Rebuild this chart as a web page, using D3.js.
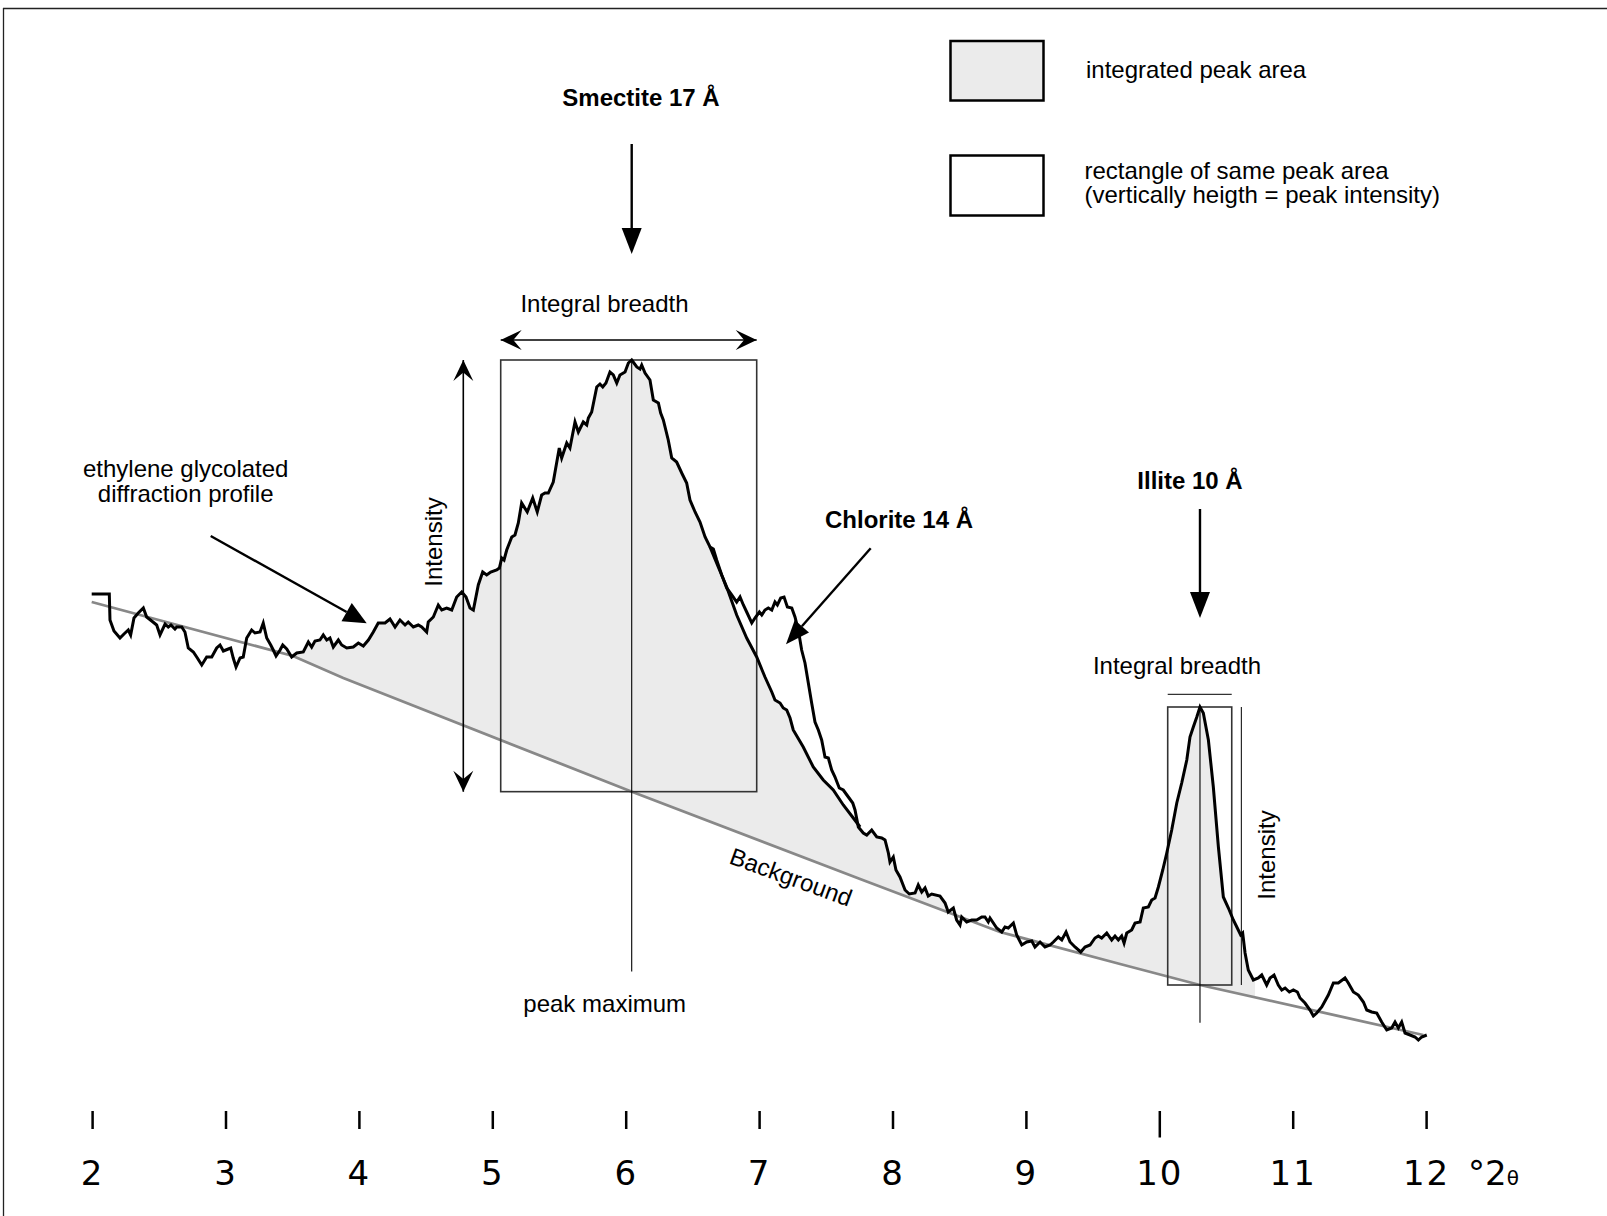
<!DOCTYPE html>
<meta charset="utf-8">
<head>
  <title>Integrated peak area</title>
  <style>
    body { margin: 0; background: #fff; }
    svg text { font-family: "Liberation Sans", Arial, Helvetica, sans-serif; font-size: 24px; fill: #000; }
    svg text.bold { font-weight: bold; }
    .axis text { font-family: "DejaVu Sans", sans-serif; font-size: 34px; letter-spacing: 2px; }
  </style>
</head>
<body>
<div id="chart"></div>
<script src="https://d3js.org/d3.v7.min.js"></script>
<script>

// measured ethylene glycolated profile  [°2θ, counts]
var profile = [
  [1.997,466],[2.129,466],[2.134,440],[2.164,429],[2.209,422],[2.239,426],[2.271,430],[2.289,425],
  [2.314,442],[2.346,447],[2.384,452],[2.409,443],[2.447,439],[2.484,435],[2.509,425],[2.547,436],
  [2.571,433],[2.591,435],[2.621,431],[2.634,433],[2.672,433],[2.696,428],[2.721,412],[2.759,408],
  [2.789,402],[2.822,395],[2.859,403],[2.897,403],[2.934,412],[2.959,415],[2.984,409],[3.021,411],
  [3.039,412],[3.058,402],[3.079,393],[3.109,402],[3.133,403],[3.159,422],[3.196,430],[3.221,427],
  [3.259,428],[3.283,437],[3.309,422],[3.339,415],[3.358,410],[3.379,404],[3.409,410],[3.429,415],
  [3.459,411],[3.496,403],[3.534,407],[3.583,408],[3.621,418],[3.646,413],[3.671,419],[3.708,420],
  [3.733,425],[3.759,420],[3.783,422],[3.808,413],[3.846,420],[3.871,415],[3.909,412],[3.958,413],
  [3.996,417],[4.033,414],[4.071,420],[4.108,428],[4.145,437],[4.196,437],[4.233,441],[4.271,433],
  [4.308,440],[4.346,435],[4.370,438],[4.408,433],[4.445,435],[4.471,433],[4.508,428],[4.520,438],
  [4.558,443],[4.595,455],[4.621,450],[4.658,452],[4.696,450],[4.733,463],[4.771,468],[4.803,463],
  [4.833,452],[4.858,450],[4.895,475],[4.928,488],[4.958,485],[4.988,488],[5.033,490],[5.053,492],
  [5.071,502],[5.088,500],[5.108,510],[5.146,523],[5.170,525],[5.195,537],[5.220,557],[5.262,548],
  [5.303,562],[5.337,548],[5.370,565],[5.395,567],[5.420,567],[5.457,578],[5.502,612],[5.520,602],
  [5.558,617],[5.582,612],[5.620,638],[5.645,628],[5.682,638],[5.708,635],[5.720,642],[5.745,648],
  [5.783,673],[5.807,676],[5.828,673],[5.852,677],[5.882,688],[5.907,685],[5.933,677],[5.957,685],
  [5.995,688],[6.020,697],[6.045,700],[6.083,693],[6.107,691],[6.120,695],[6.145,687],[6.182,680],
  [6.207,660],[6.245,657],[6.262,647],[6.282,640],[6.319,620],[6.345,602],[6.382,598],[6.420,587],
  [6.457,577],[6.482,560],[6.520,548],[6.557,538],[6.595,523],[6.632,513],
  [6.657,511],[6.682,500],[6.720,485],[6.757,472],[6.795,465],[6.832,458],[6.857,463],[6.882,455],
  [6.907,448],[6.945,437],[6.969,442],[7.002,448],[7.020,445],[7.044,450],[7.069,452],[7.095,450],
  [7.119,458],[7.137,455],[7.162,462],[7.187,463],[7.212,453],[7.245,452],[7.269,443],[7.294,430],
  [7.319,410],[7.344,397],[7.369,377],[7.394,357],[7.419,338],[7.444,330],[7.469,320],[7.494,303],
  [7.519,302],[7.544,290],[7.569,283],[7.601,272],[7.631,270],[7.669,263],[7.702,257],[7.719,250],
  [7.744,233],
  [7.781,227],[7.807,225],[7.844,230],[7.882,223],[7.919,222],[7.944,220],[7.969,207],[7.981,198],
  [8.006,203],[8.026,190],[8.056,183],[8.094,170],[8.126,166],[8.169,167],[8.193,175],[8.219,168],
  [8.244,172],[8.268,164],[8.294,166],[8.356,164],[8.394,157],[8.418,148],[8.456,152],[8.481,140],
  [8.506,135],[8.519,143],[8.556,138],[8.594,140],[8.631,140],[8.669,143],[8.693,143],[8.718,138],
  [8.731,142],[8.781,132],[8.819,128],[8.843,133],[8.868,132],[8.906,137],[8.931,125],[8.969,115],
  [9.006,118],[9.044,119],[9.068,113],[9.106,118],[9.143,113],[9.181,115],[9.206,118],[9.243,123],
  [9.269,120],[9.301,128],[9.331,118],[9.368,113],[9.411,108],[9.443,113],[9.481,115],[9.518,122],
  [9.543,124],[9.568,122],[9.606,127],[9.643,120],[9.668,124],[9.693,120],[9.718,124],[9.736,117],
  [9.756,127],[9.793,130],[9.818,137],[9.856,138],[9.880,152],[9.918,153],[9.943,160],[9.968,162],
  [9.993,173],[10.026,190],[10.056,207],[10.093,230],[10.131,257],[10.168,277],[10.206,300],[10.230,323],
  [10.255,333],[10.281,343],[10.305,353],[10.330,347],[10.368,320],[10.405,273],[10.443,213],[10.480,163],
  [10.518,152],[10.555,140],[10.592,130],[10.610,125],[10.625,127],[10.643,107],[10.667,90],[10.705,80],
  [10.742,82],[10.768,85],[10.805,75],[10.830,82],[10.860,85],[10.892,75],[10.918,70],[10.943,72],
  [10.975,68],[11.005,70],[11.035,68],[11.055,62],[11.092,57],[11.130,50],[11.155,44],[11.180,47],
  [11.218,53],[11.267,65],[11.305,77],[11.342,77],[11.392,82],[11.417,77],[11.455,68],[11.492,65],
  [11.530,58],[11.555,50],[11.592,48],[11.630,47],[11.667,38],[11.705,30],[11.742,32],[11.767,38],
  [11.792,32],[11.817,38],[11.842,27],[11.880,25],[11.917,23],[11.942,20],[11.967,23],[12.005,25]
];

// smectite part of the profile under the chlorite shoulder
var smectiteBranch = [
  [6.632,513],[6.694,493],[6.757,473],[6.832,445],[6.907,422],[6.982,403],[7.044,383],[7.095,368],
  [7.119,360],[7.157,357],[7.181,352],[7.207,350],[7.232,342],[7.256,330],[7.331,313],[7.406,293],
  [7.481,280],[7.556,270],[7.631,255],[7.706,242],[7.757,233]
];

// background anchors
var background = [
  [1.997,458],[3.506,404],[3.883,382],[6.032,269],[7.757,181],[8.806,128],[9.706,96],[10.305,75],[11.979,25]
];

// peaks
var peakLabels  = ["Smectite 17 Å", "Illite 10 Å"];
var peakTheta   = [6.045, 10.305];
var peakCounts  = [700, 353];
var breadthFrom = [5.063, 10.063];
var breadthTo   = [6.982, 10.543];

// integrated areas (°2θ limits)
var areaLimits = [[3.496, 8.418], [9.411, 10.718]];

var tickValues = [2, 3, 4, 5, 6, 7, 8, 9, 10, 11, 12];

var width = 1607, height = 1216;

var svg = d3.select("#chart").append("svg")
  .attr("width", width)
  .attr("height", height);

var x = d3.scaleLinear().domain([2, 12]).range([92.1, 1426.1]);
var y = d3.scaleLinear().domain([0, 1000]).range([1060, 60]);

var bg = d3.scaleLinear()
  .domain(background.map(function(d) { return d[0]; }))
  .range(background.map(function(d) { return d[1]; }));

function profileAt(t) {
  for (var i = 1; i < profile.length; i++) {
    if (profile[i][0] >= t) {
      var a = profile[i - 1], b = profile[i];
      return a[1] + (b[1] - a[1]) * (t - a[0]) / (b[0] - a[0]);
    }
  }
  return profile[profile.length - 1][1];
}

// frame (top and left edge)
svg.append("line").attr("x1", 3).attr("y1", 8.5).attr("x2", width).attr("y2", 8.5)
  .attr("stroke", "#222").attr("stroke-width", 1.3);
svg.append("line").attr("x1", 3.5).attr("y1", 8).attr("x2", 3.5).attr("y2", height)
  .attr("stroke", "#222").attr("stroke-width", 1.3);

// shaded areas
var region1 = profile.filter(function(d) { return d[0] >= areaLimits[0][0] && d[0] <= 6.632; })
  .concat(smectiteBranch.slice(1))
  .concat(profile.filter(function(d) { return d[0] > 7.757 && d[0] <= areaLimits[0][1]; }));
var region2 = profile.filter(function(d) { return d[0] >= areaLimits[1][0] && d[0] < areaLimits[1][1]; });
region2.push([areaLimits[1][1], profileAt(areaLimits[1][1])]);

var area = d3.area()
  .x(function(d) { return x(d[0]); })
  .y0(function(d) { return y(bg(d[0])); })
  .y1(function(d) { return y(d[1]); });

svg.selectAll(".area")
  .data([region1, region2])
  .enter().append("path")
    .attr("class", "area")
    .attr("d", area)
    .attr("fill", "#ebebeb");

// background line
var line = d3.line()
  .x(function(d) { return x(d[0]); })
  .y(function(d) { return y(d[1]); });

svg.append("path")
  .attr("d", line(background))
  .attr("fill", "none")
  .attr("stroke", "#888")
  .attr("stroke-width", 2.8);

svg.append("text")
  .attr("transform", "translate(791,877) rotate(20)")
  .attr("text-anchor", "middle")
  .attr("dy", "0.35em")
  .text("Background");

// rectangles of same peak area + peak lines
var peakLineEnd = [971.6, 1022.7];
peakTheta.forEach(function(t, i) {
  var top = y(peakCounts[i]), bottom = y(bg(t));
  svg.append("rect")
    .attr("x", x(breadthFrom[i]))
    .attr("y", top)
    .attr("width", x(breadthTo[i]) - x(breadthFrom[i]))
    .attr("height", bottom - top)
    .attr("fill", "none")
    .attr("stroke", "#333")
    .attr("stroke-width", 1.6);
  svg.append("line")
    .attr("x1", x(t)).attr("x2", x(t))
    .attr("y1", top).attr("y2", peakLineEnd[i])
    .attr("stroke", "#000").attr("stroke-width", 1.1);
});

// profile lines
svg.append("path")
  .attr("d", line(smectiteBranch))
  .attr("fill", "none")
  .attr("stroke", "#000")
  .attr("stroke-width", 3);
svg.append("path")
  .attr("d", line(profile))
  .attr("fill", "none")
  .attr("stroke", "#000")
  .attr("stroke-width", 3);

// arrows
function solidArrow(x1, y1, x2, y2, len, hw) {
  var a = Math.atan2(y2 - y1, x2 - x1),
      c = Math.cos(a), s = Math.sin(a),
      bx = x2 - len * c, by = y2 - len * s;
  svg.append("line")
    .attr("x1", x1).attr("y1", y1).attr("x2", bx).attr("y2", by)
    .attr("stroke", "#000").attr("stroke-width", 2.4);
  svg.append("path")
    .attr("d", "M" + x2 + "," + y2 +
      "L" + (bx - hw * s) + "," + (by + hw * c) +
      "L" + (bx + hw * s) + "," + (by - hw * c) + "Z")
    .attr("fill", "#000");
}

function stealth(x2, y2, a, len, hw) {
  var c = Math.cos(a), s = Math.sin(a),
      bx = x2 - len * c, by = y2 - len * s,
      nx = x2 - 0.6 * len * c, ny = y2 - 0.6 * len * s;
  svg.append("path")
    .attr("d", "M" + x2 + "," + y2 +
      "L" + (bx - hw * s) + "," + (by + hw * c) +
      "L" + nx + "," + ny +
      "L" + (bx + hw * s) + "," + (by - hw * c) + "Z")
    .attr("fill", "#000");
}

function doubleArrow(x1, y1, x2, y2) {
  var a = Math.atan2(y2 - y1, x2 - x1);
  svg.append("line")
    .attr("x1", x1).attr("y1", y1).attr("x2", x2).attr("y2", y2)
    .attr("stroke", "#000").attr("stroke-width", 1.6);
  stealth(x2, y2, a, 21, 10);
  stealth(x1, y1, a + Math.PI, 21, 10);
}

// smectite annotations
svg.append("text").attr("class", "bold").attr("x", 641).attr("y", 106)
  .attr("text-anchor", "middle").text(peakLabels[0]);
solidArrow(x(peakTheta[0]), 144, x(peakTheta[0]), 254, 26, 10);
svg.append("text").attr("x", 604.5).attr("y", 312)
  .attr("text-anchor", "middle").text("Integral breadth");
doubleArrow(x(breadthFrom[0]), 340, x(breadthTo[0]), 340);
doubleArrow(463.3, y(peakCounts[0]), 463.3, y(bg(peakTheta[0])));
svg.append("text").attr("transform", "translate(441.7,542) rotate(-90)")
  .attr("text-anchor", "middle").text("Intensity");
svg.append("text").attr("x", 604.7).attr("y", 1012)
  .attr("text-anchor", "middle").text("peak maximum");

// illite annotations
svg.append("text").attr("class", "bold").attr("x", 1190).attr("y", 489)
  .attr("text-anchor", "middle").text(peakLabels[1]);
solidArrow(x(peakTheta[1]), 509, x(peakTheta[1]), 618, 26, 10);
svg.append("text").attr("x", 1177).attr("y", 674)
  .attr("text-anchor", "middle").text("Integral breadth");
svg.append("line")
  .attr("x1", x(breadthFrom[1])).attr("x2", x(breadthTo[1]))
  .attr("y1", 694.3).attr("y2", 694.3)
  .attr("stroke", "#000").attr("stroke-width", 1);
svg.append("line")
  .attr("x1", x(breadthTo[1]) + 9.6).attr("x2", x(breadthTo[1]) + 9.6)
  .attr("y1", y(peakCounts[1])).attr("y2", y(bg(peakTheta[1])))
  .attr("stroke", "#000").attr("stroke-width", 1);
svg.append("text").attr("transform", "translate(1275,855) rotate(-90)")
  .attr("text-anchor", "middle").text("Intensity");

// chlorite
svg.append("text").attr("class", "bold").attr("x", 899).attr("y", 528)
  .attr("text-anchor", "middle").text("Chlorite 14 Å");
solidArrow(870.7, 548.3, 786, 644.3, 24, 9.5);

// profile label
svg.append("text").attr("x", 185.7).attr("y", 476.7)
  .attr("text-anchor", "middle").text("ethylene glycolated");
svg.append("text").attr("x", 185.7).attr("y", 501.7)
  .attr("text-anchor", "middle").text("diffraction profile");
solidArrow(210.7, 536, 366.7, 623.3, 23, 10.5);

// legend
svg.append("rect").attr("x", 950.5).attr("y", 41).attr("width", 93).attr("height", 59.5)
  .attr("fill", "#ebebeb").attr("stroke", "#000").attr("stroke-width", 2.5);
svg.append("rect").attr("x", 950.5).attr("y", 155.5).attr("width", 93).attr("height", 60)
  .attr("fill", "#fff").attr("stroke", "#000").attr("stroke-width", 2.5);
svg.append("text").attr("x", 1086).attr("y", 78).text("integrated peak area");
svg.append("text").attr("x", 1084.5).attr("y", 178.5).text("rectangle of same peak area");
svg.append("text").attr("x", 1084.5).attr("y", 202.5).text("(vertically heigth = peak intensity)");

// x axis
var xAxis = svg.append("g")
  .attr("class", "axis")
  .attr("transform", "translate(0,1111)")
  .call(d3.axisBottom(x).tickValues(tickValues).tickSize(18).tickFormat(d3.format("d")));
xAxis.select(".domain").remove();
xAxis.selectAll(".tick line").attr("stroke", "#000").attr("stroke-width", 2.5)
  .filter(function(d) { return d === 10; }).attr("y2", 26.5);
xAxis.selectAll(".tick text")
  .attr("y", 74).attr("dy", 0)
  .attr("fill", "#000")
  .attr("font-family", null).attr("font-size", null);

var unit = svg.append("text")
  .attr("class", "axis-unit")
  .attr("x", 1468).attr("y", 1185)
  .style("font-family", "'DejaVu Sans', sans-serif")
  .style("font-size", "34px");
unit.append("tspan").text("°2");
unit.append("tspan").style("font-size", "20px").text("θ");

</script>
</body>
